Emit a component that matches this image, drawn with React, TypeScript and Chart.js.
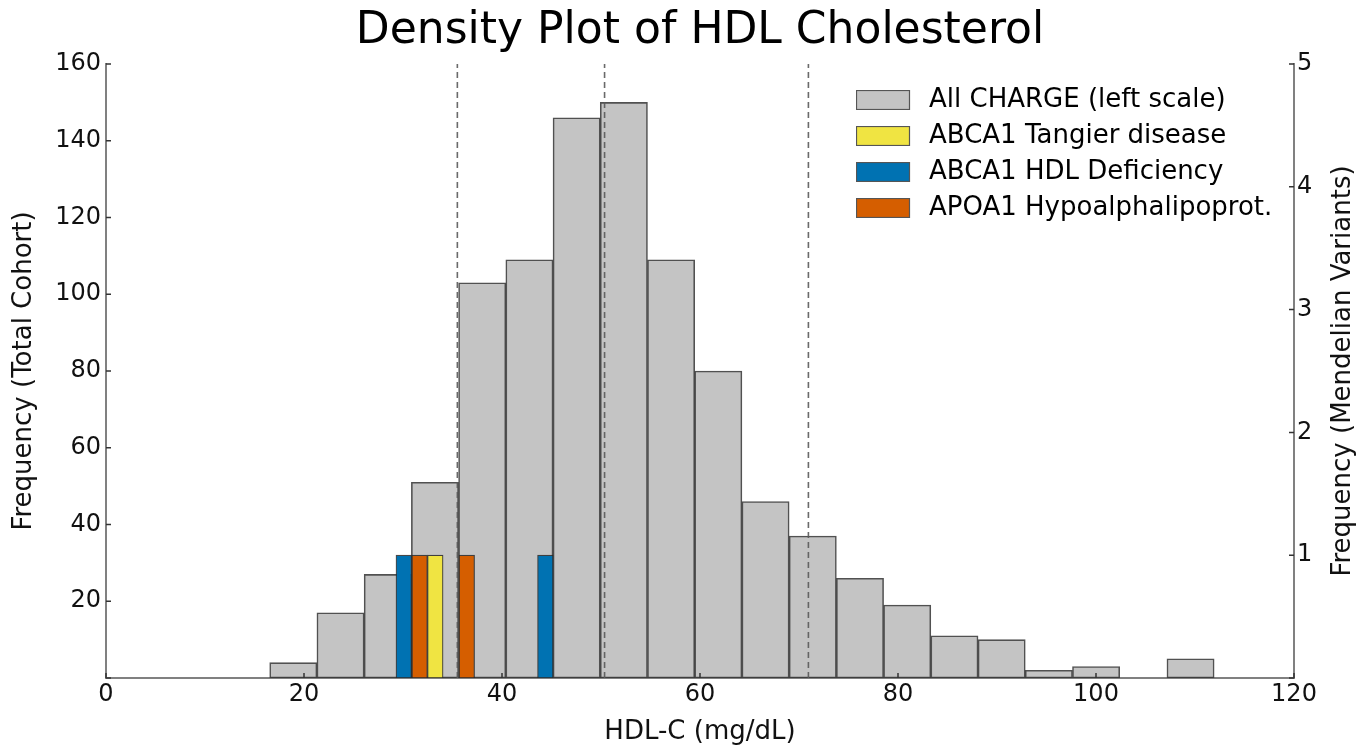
import React, { useEffect, useRef } from 'react';
import { Chart, registerables } from 'chart.js';

Chart.register(...registerables);

// ---- data ----
const binCenters = [18.92, 23.69, 28.46, 33.23, 38.0, 42.77, 47.54, 52.31, 57.08, 61.85, 66.62, 71.39, 76.16, 80.93, 85.7, 90.47, 95.24, 100.01, 104.78, 109.55];
const cohortCounts = [4, 17, 27, 51, 103, 109, 146, 150, 109, 80, 46, 37, 26, 19, 11, 10, 2, 3, 0, 5];

const tangierX = [33.26];
const tangierY = [1];
const hdlDefX = [30.08, 44.38];
const hdlDefY = [1, 1];
const apoa1X = [31.68, 36.44];
const apoa1Y = [1, 1];

const dashedX = [35.49, 50.36, 70.95];

const seriesLabels = ['All CHARGE (left scale)', 'ABCA1 Tangier disease', 'ABCA1 HDL Deficiency', 'APOA1 Hypoalphalipoprot.'];
const seriesColors = ['#c4c4c4', '#f0e442', '#0072b2', '#d55e00'];

const chartTitle = 'Density Plot of HDL Cholesterol';
const xTitle = 'HDL-C (mg/dL)';
const yTitle = 'Frequency (Total Cohort)';
const y2Title = 'Frequency (Mendelian Variants)';

const FONT = "'DejaVu Sans', sans-serif";

function makeBox(fill: string): HTMLCanvasElement {
  const c = document.createElement('canvas');
  c.width = 60;
  c.height = 20;
  const g = c.getContext('2d')!;
  g.fillStyle = fill;
  g.fillRect(0.5, 0.5, 53, 19);
  g.strokeStyle = '#555';
  g.lineWidth = 1.2;
  g.strokeRect(0.5, 0.5, 53, 19);
  return c;
}

const legendPlacer = {
  id: 'legendPlacer',
  afterLayout(chart: any) {
    const lg = chart.legend;
    if (!lg) return;
    lg.left = 846;
    lg.top = 77;
    lg.right = lg.left + lg.width;
    lg.height = 200;
    lg.bottom = lg.top + 200;
  },
};

const innerTicks = {
  id: 'innerTicks',
  afterDatasetsDraw(chart: any) {
    const { ctx, chartArea: ca, scales } = chart;
    ctx.save();
    ctx.strokeStyle = '#333';
    ctx.lineWidth = 1.5;
    ctx.beginPath();
    scales.x.ticks.forEach((t: any) => {
      const px = scales.x.getPixelForValue(t.value);
      ctx.moveTo(px, ca.bottom);
      ctx.lineTo(px, ca.bottom - 5);
    });
    scales.y.ticks.forEach((t: any) => {
      const py = scales.y.getPixelForValue(t.value);
      ctx.moveTo(ca.left, py);
      ctx.lineTo(ca.left + 5, py);
    });
    scales.y2.ticks.forEach((t: any) => {
      const py = scales.y2.getPixelForValue(t.value);
      ctx.moveTo(ca.right, py);
      ctx.lineTo(ca.right - 5, py);
    });
    ctx.stroke();
    ctx.restore();
  },
  afterDraw(chart: any) {
    const { ctx, chartArea: ca } = chart;
    ctx.save();
    ctx.font = `26px ${FONT}`;
    ctx.fillStyle = '#111';
    ctx.textAlign = 'center';
    ctx.textBaseline = 'alphabetic';
    ctx.translate(chart.width - 21, (ca.top + ca.bottom) / 2);
    ctx.rotate(-Math.PI / 2);
    ctx.fillText(y2Title, 0, 0);
    ctx.restore();
  },
};

export default function App() {
  const ref = useRef<HTMLCanvasElement | null>(null);

  useEffect(() => {
    if (!ref.current) return;
    const boxes = seriesColors.map(makeBox);
    const edge = 'rgba(40,40,40,0.85)';
    const colored = (label: string, xs: number[], ys: number[], color: string) => ({
      type: 'bar' as const,
      label,
      data: xs.map((x, i) => ({ x, y: ys[i] })),
      xAxisID: 'x2',
      yAxisID: 'y2',
      backgroundColor: color,
      borderColor: edge,
      borderWidth: 1.2,
      borderSkipped: false,
      grouped: false,
      barPercentage: 1,
      categoryPercentage: 1,
      order: 1,
    });

    const datasets: any[] = [
      colored(seriesLabels[1], tangierX, tangierY, seriesColors[1]),
      colored(seriesLabels[2], hdlDefX, hdlDefY, seriesColors[2]),
      colored(seriesLabels[3], apoa1X, apoa1Y, seriesColors[3]),
      ...dashedX.map((x) => ({
        type: 'line',
        label: 'threshold',
        data: [{ x, y: 0 }, { x, y: 160 }],
        xAxisID: 'x',
        yAxisID: 'y',
        borderColor: 'rgba(90,90,90,0.9)',
        borderWidth: 1.6,
        borderDash: [6, 4],
        pointRadius: 0,
        fill: false,
        order: 2,
      })),
      {
        type: 'bar',
        label: seriesLabels[0],
        data: binCenters.map((x, i) => ({ x, y: cohortCounts[i] })),
        xAxisID: 'x',
        yAxisID: 'y',
        backgroundColor: seriesColors[0],
        borderColor: 'rgba(50,50,50,0.85)',
        borderWidth: 1.6,
        borderSkipped: false,
        grouped: false,
        barPercentage: 1,
        categoryPercentage: 1,
        order: 3,
      },
    ];

    const tickFont = { family: FONT, size: 24 };
    const titleFont = { family: FONT, size: 26 };
    const border = { display: true, color: '#808080', width: 2 };
    const noGrid = { display: false, drawTicks: false, offset: false };

    const chart = new Chart(ref.current, {
      type: 'bar',
      data: { datasets },
      options: {
        responsive: false,
        animation: false,
        devicePixelRatio: 1,
        layout: { padding: 0 },
        plugins: {
          title: {
            display: true,
            text: chartTitle,
            color: '#000',
            font: { family: FONT, size: 44, weight: 'normal' },
            padding: { top: 5.5, bottom: 5.7 },
            fullSize: false,
          },
          legend: {
            position: 'chartArea',
            align: 'start',
            labels: {
              usePointStyle: true,
              pointStyleWidth: 60,
              boxHeight: 19,
              padding: 10,
              color: '#111',
              font: { family: FONT, size: 26 },
              generateLabels: () =>
                seriesLabels.map((text, i) => ({
                  text,
                  pointStyle: boxes[i],
                  fillStyle: seriesColors[i],
                  strokeStyle: '#555',
                  lineWidth: 1,
                  hidden: false,
                  datasetIndex: i,
                })),
            },
          },
          tooltip: { enabled: false },
        },
        scales: {
          x: {
            type: 'linear',
            position: 'bottom',
            min: 0,
            max: 120,
            offset: false,
            grid: noGrid,
            border,
            ticks: { stepSize: 20, autoSkip: false, maxRotation: 0, padding: 2, color: '#111', font: tickFont },
            title: { display: true, text: xTitle, color: '#111', font: titleFont, padding: { top: 0, bottom: 1 } },
            afterFit: (s: any) => { s.height = 71; },
          },
          x2: {
            type: 'linear',
            display: false,
            min: 0,
            max: 120,
            offset: false,
            grid: noGrid,
            ticks: { stepSize: 20 },
          },
          y: {
            type: 'linear',
            position: 'left',
            min: 0,
            max: 160,
            grid: noGrid,
            border,
            ticks: {
              stepSize: 20,
              padding: 5,
              color: '#111',
              font: tickFont,
              callback: (v: any) => (v === 0 ? '' : String(v)),
            },
            title: { display: true, text: yTitle, color: '#111', font: titleFont, padding: { top: 8.4, bottom: 0 } },
            afterFit: (s: any) => { s.width = 106; },
          },
          y2: {
            type: 'linear',
            position: 'right',
            min: 0,
            max: 5,
            grid: noGrid,
            border,
            ticks: {
              stepSize: 1,
              padding: 3,
              color: '#111',
              font: tickFont,
              callback: (v: any) => (v === 0 ? '' : String(v)),
            },
            afterFit: (s: any) => { s.width = 77; },
          },
        },
      } as any,
      plugins: [legendPlacer, innerTicks],
    });
    return () => chart.destroy();
  }, []);

  return (
    <div style={{ position: 'absolute', left: 0, top: 0, width: 1371, height: 749, background: '#fff' }}>
      <canvas ref={ref} width={1371} height={749} style={{ display: 'block' }} />
    </div>
  );
}
